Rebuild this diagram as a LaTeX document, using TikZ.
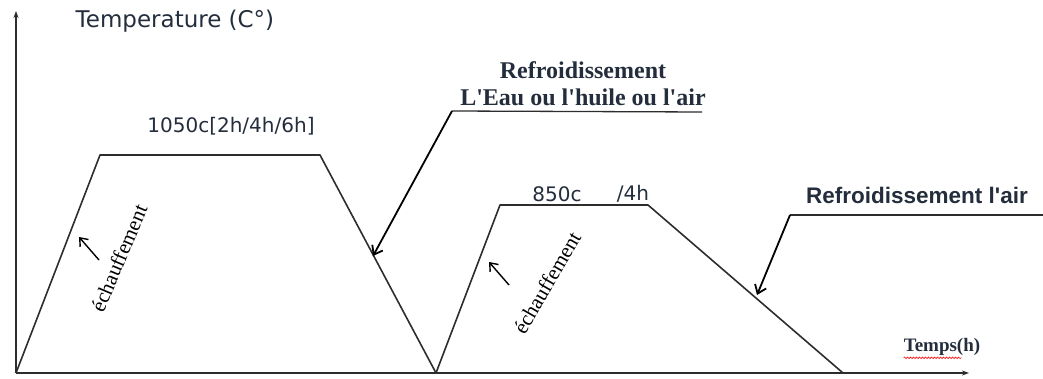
\documentclass[tikz,border=0pt]{standalone}
\usepackage{fontspec}
\setmainfont{Liberation Serif}
\newfontfamily\noteserif{Liberation Serif}
\newfontfamily\plotsans{DejaVu Sans}
\newfontfamily\notesans{Liberation Sans}
\usepackage{tikz}
\usetikzlibrary{arrows.meta,positioning,calc,decorations.pathmorphing}
\definecolor{plotline}{RGB}{45,45,45}
\definecolor{plottext}{RGB}{35,45,60}

\begin{document}
\begin{tikzpicture}[x=1pt,y=-1pt,
    axis/.style={draw=plotline, line width=1.4pt, -{Stealth[length=7pt,width=5pt]}},
    curve/.style={draw=plotline, line width=1.6pt, line join=round},
    pointer/.style={draw=black, line width=1.8pt, -{Straight Barb[length=8pt,width=12pt]}},
    leader/.style={draw=plotline, line width=1.3pt},
    smallarr/.style={draw=black, line width=1.4pt, -{Straight Barb[length=7pt,width=11pt]}},
    sanslbl/.style={font=\plotsans\fontsize{20}{22}\selectfont, text=plottext, inner sep=0pt},
    seriflbl/.style={font=\noteserif\bfseries\fontsize{24}{27}\selectfont, text=plottext, inner sep=0pt, align=center},
    rotlbl/.style={font=\noteserif\fontsize{21}{23}\selectfont, inner sep=0pt}
]
\useasboundingbox (0,0) rectangle (1043,379);

% axes
\coordinate (o) at (16,373);
\coordinate (ytop) at (16,11);
\coordinate (xend) at (969,373);
\draw[axis] (o) -- (ytop);
\draw[axis] (o) -- (xend);
\node[sanslbl, font=\plotsans\fontsize{23}{25}\selectfont] (ylbl) at (175,21) {Temperature (C°)};
\node[inner sep=0pt, font=\noteserif\bfseries\fontsize{19}{21}\selectfont, text=plottext] (xlbl) at (942,347) {Temps(h)};
\draw[red, line width=0.6pt, decorate, decoration={snake, amplitude=0.8pt, segment length=3pt}]
    ($(xlbl.south west)+(0,2)$) -- ($(xlbl.south west)+(58,2)$);

% first cycle
\coordinate (a1) at (100,155);
\coordinate (a2) at (320,155);
\coordinate (a3) at (436,373);
\draw[curve] (o) -- (a1) -- (a2) -- (a3);
\node[sanslbl] (t1) at (231,126) {1050c[2h/4h/6h]};
\node[rotlbl, rotate=67] (e1) at (119,258) {échauffement};
\draw[smallarr] (99,260) -- (79,237);

% second cycle
\coordinate (b1) at (500,205);
\coordinate (b2) at (648,205);
\coordinate (b3) at (843,373);
\draw[curve] (a3) -- (b1) -- (b2) -- (b3);
\node[sanslbl] (t2) at (557,194) {850c};
\node[sanslbl] (t3) at (633,194) {/4h};
\node[rotlbl, rotate=60] (e2) at (547,283) {échauffement};
\draw[smallarr] (509,285) -- (489,262);

% cooling notes
\node[seriflbl] (c1) at (583,84) {Refroidissement\\L'Eau ou l'huile ou l'air};
\coordinate (k1) at (452,111);
\coordinate (k1e) at (702,112);
\coordinate (p1) at (373,256);
\draw[leader] (k1) -- (k1e);
\draw[pointer] (k1) -- (p1);

\node[inner sep=0pt, font=\notesans\bfseries\fontsize{22.5}{24}\selectfont, text=plottext] (c2) at (917,195) {Refroidissement l'air};
\coordinate (k2) at (790,215);
\coordinate (k2e) at (1043,215);
\coordinate (p2) at (757,295);
\draw[leader] (k2) -- (k2e);
\draw[pointer] (k2) -- (p2);
\end{tikzpicture}
\end{document}
